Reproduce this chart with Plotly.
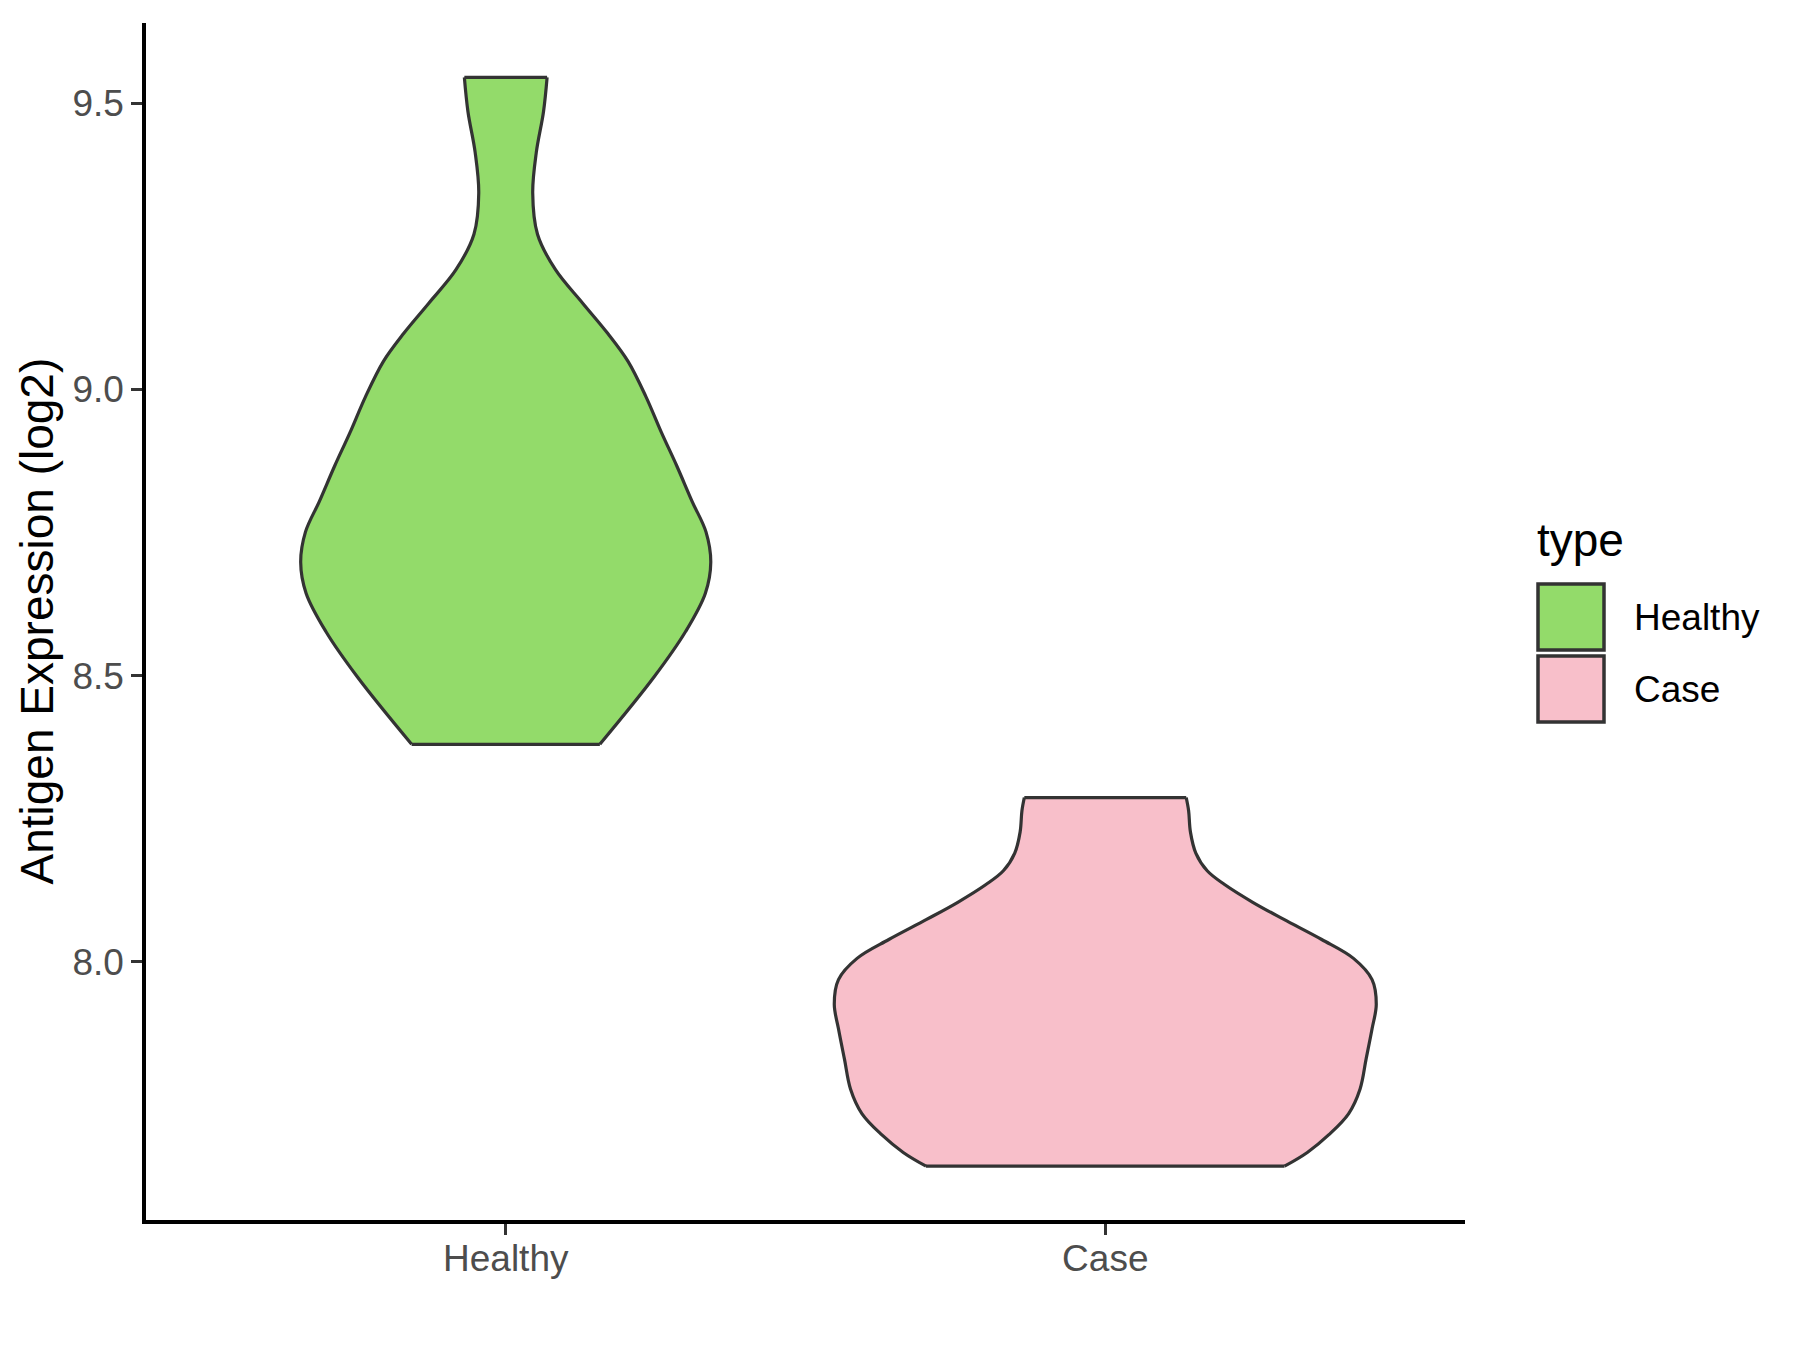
import plotly.graph_objects as go

# categories and fill colours
categories = ["Healthy", "Case"]
fill_colors = ["#93DB6A", "#F8BFCA"]

# violin outlines: expression value and half-width (x units)
healthy_y = [8.380, 8.497, 8.577, 8.644, 8.698, 8.751, 8.804, 8.867, 8.924, 8.987,
             9.049, 9.098, 9.151, 9.209, 9.271, 9.343, 9.414, 9.485, 9.545]
healthy_hw = [0.157, 0.247, 0.300, 0.333, 0.342, 0.334, 0.311, 0.285, 0.260, 0.234,
              0.204, 0.170, 0.128, 0.083, 0.053, 0.045, 0.051, 0.063, 0.069]

case_y = [7.643, 7.667, 7.698, 7.735, 7.778, 7.830, 7.883, 7.926, 7.969, 8.006,
          8.039, 8.074, 8.104, 8.135, 8.159, 8.190, 8.227, 8.264, 8.287]
case_hw = [0.299, 0.337, 0.373, 0.406, 0.425, 0.435, 0.445, 0.452, 0.445, 0.414,
           0.361, 0.298, 0.246, 0.199, 0.170, 0.151, 0.142, 0.139, 0.135]

y_ticks = [8.0, 8.5, 9.0, 9.5]

FONT = "Liberation Sans, Arial, sans-serif"
OUTLINE = "#333333"

fig = go.Figure()

for i, (ys, hws) in enumerate([(healthy_y, healthy_hw), (case_y, case_hw)]):
    center = i + 1
    left = [center - w for w in hws]
    right = [center + w for w in hws]
    # left edge, then right edge filled back to it (flat top/bottom stay sharp)
    fig.add_trace(go.Scatter(
        x=left, y=ys, mode="lines",
        line=dict(color=OUTLINE, width=3.2, shape="spline", smoothing=1.0),
        showlegend=False, hoverinfo="skip",
    ))
    fig.add_trace(go.Scatter(
        x=right, y=ys, mode="lines",
        fill="tonextx", fillcolor=fill_colors[i],
        line=dict(color=OUTLINE, width=3.2, shape="spline", smoothing=1.0),
        name=categories[i], showlegend=False, hoverinfo="skip",
    ))
    # flat ends of the trimmed violin
    fig.add_trace(go.Scatter(
        x=[left[0], right[0], None, left[-1], right[-1]],
        y=[ys[0], ys[0], None, ys[-1], ys[-1]],
        mode="lines", line=dict(color=OUTLINE, width=3.2),
        showlegend=False, hoverinfo="skip",
    ))

# target plot area on screen: x 146..1465, y 23..1220 (page body has an 8px margin)
W, H = 1800, 1350
OFF = 8
L, R, T, B = 146, 1465, 23, 1220
pw, ph = R - L, B - T


def px(x):
    return (x - L) / pw


def py(y):
    return (B - y) / ph


# y axis title
fig.add_annotation(
    x=px(36), y=0.5, xref="paper", yref="paper",
    text="Antigen Expression (log2)", textangle=-90,
    showarrow=False, xanchor="center", yanchor="middle",
    font=dict(family=FONT, size=46, color="black"),
)

# legend (drawn by hand, ggplot style)
fig.add_annotation(
    x=px(1535), y=py(540), xref="paper", yref="paper",
    text="type", showarrow=False, xanchor="left", yanchor="middle",
    font=dict(family=FONT, size=46, color="black"),
)
box_tops = [584, 656]
for i, cat in enumerate(categories):
    top = box_tops[i]
    fig.add_shape(
        type="rect", xref="paper", yref="paper",
        x0=px(1538), x1=px(1604), y0=py(top + 66), y1=py(top),
        fillcolor=fill_colors[i], line=dict(color=OUTLINE, width=3.5),
    )
    fig.add_annotation(
        x=px(1632), y=py(top + 33), xref="paper", yref="paper",
        text=cat, showarrow=False, xanchor="left", yanchor="middle",
        font=dict(family=FONT, size=37, color="black"),
    )

fig.update_layout(
    width=W, height=H,
    margin=dict(l=L - OFF, r=W - R + OFF, t=T - OFF, b=H - B + OFF, pad=0),
    paper_bgcolor="white",
    plot_bgcolor="white",
    showlegend=False,
    font=dict(family=FONT),
    xaxis=dict(
        range=[0.4, 2.6],
        tickvals=[1, 2], ticktext=categories,
        showgrid=False, zeroline=False,
        showline=True, linecolor="black", linewidth=3.5,
        ticks="outside", ticklen=11, tickwidth=3, tickcolor=OUTLINE,
        ticklabelstandoff=-8,
        tickfont=dict(family=FONT, size=37, color="#4D4D4D"),
    ),
    yaxis=dict(
        range=[7.549, 9.640],
        tickvals=y_ticks, ticktext=[f"{v:.1f}" for v in y_ticks],
        showgrid=False, zeroline=False,
        showline=True, linecolor="black", linewidth=3.5,
        ticks="outside", ticklen=11, tickwidth=3, tickcolor=OUTLINE,
        tickfont=dict(family=FONT, size=37, color="#4D4D4D"),
    ),
)

fig.write_html("out.html")
